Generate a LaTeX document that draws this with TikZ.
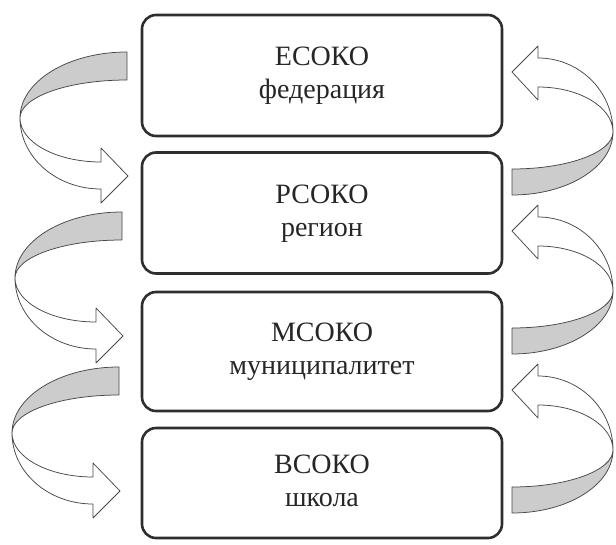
\documentclass[tikz,border=0pt]{standalone}
\usepackage{fontspec}
\setmainfont{Liberation Serif}
\tikzset{
  box/.style={draw=black!82, line width=2.6pt, rounded corners=14pt, minimum width=360pt, inner sep=0pt, fill=white,
    font=\fontsize{28}{33}\selectfont, align=center, text=black!85},
  ribbon/.style={draw=black!72, line width=0.75pt, line join=round},
  backside/.style={ribbon, fill=black!20},
  frontside/.style={ribbon, fill=white}
}
\newcommand\leftribbon[1]{%
  \begin{scope}[shift={#1}]
    \draw[frontside] (0,0) arc[start angle=180,end angle=270,x radius=81pt,y radius=71pt]
      -- (81,85) -- (108,58) -- (81,30) -- (81,44)
      arc[start angle=270,end angle=180,x radius=81pt,y radius=44pt] -- cycle;
    \draw[backside] (107,-66) arc[start angle=90,end angle=180,x radius=107pt,y radius=66pt]
      arc[start angle=180,end angle=90,x radius=107pt,y radius=38pt] -- cycle;
  \end{scope}}
\newcommand\rightribbon[1]{%
  \begin{scope}[shift={#1}]
    \draw[frontside] (0,0) arc[start angle=0,end angle=90,x radius=75pt,y radius=74pt]
      -- (-75,-86) -- (-101,-60) -- (-75,-32) -- (-75,-45)
      arc[start angle=90,end angle=0,x radius=75pt,y radius=45pt] -- cycle;
    \draw[backside] (-101,37) arc[start angle=270,end angle=360,x radius=101pt,y radius=37pt]
      arc[start angle=0,end angle=-90,x radius=101pt,y radius=63pt] -- cycle;
  \end{scope}}
\begin{document}
\begin{tikzpicture}[x=1pt,y=-1pt]
\useasboundingbox (0,0) rectangle (616,544);
\node[box, minimum height=121pt] (b1) at (322,75.5) {\strut ЕСОКО\\\strut федерация};
\node[box, minimum height=121pt] (b2) at (322,213) {\strut РСОКО\\\strut регион};
\node[box, minimum height=119pt] (b3) at (322,351.5) {\strut МСОКО\\\strut муниципалитет};
\node[box, minimum height=110pt] (b4) at (322,483) {\strut ВСОКО\\\strut школа};
\leftribbon{(20,118)}
\leftribbon{(15,278)}
\leftribbon{(12,433)}
\rightribbon{(613,132)}
\rightribbon{(613,291)}
\rightribbon{(613,450)}
\end{tikzpicture}
\end{document}
